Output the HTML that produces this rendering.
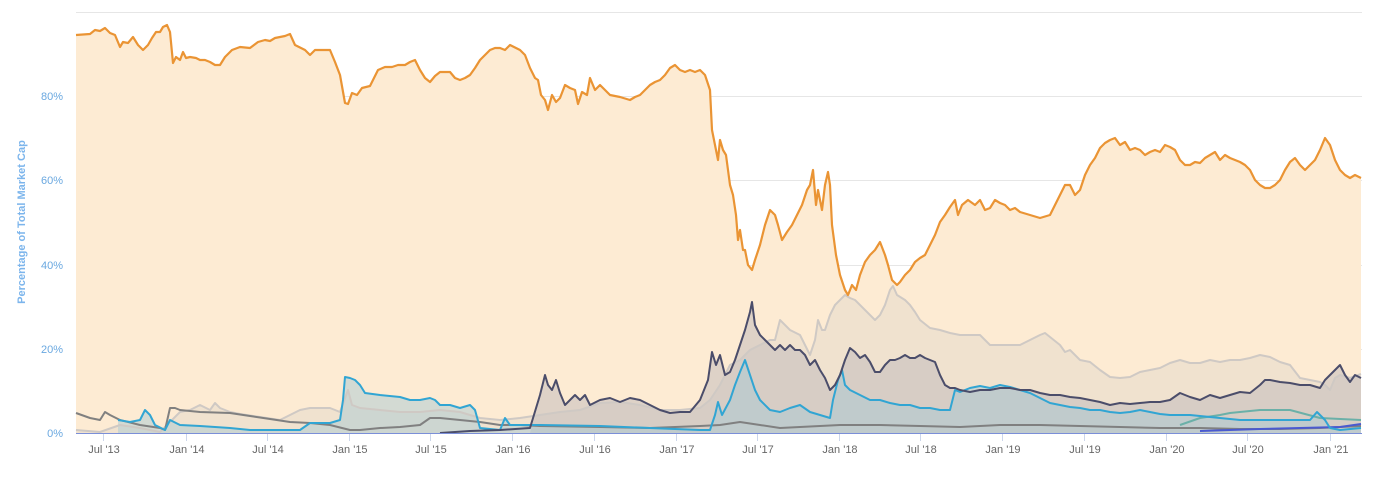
<!DOCTYPE html>
<html><head><meta charset="utf-8"><style>
html,body{margin:0;padding:0;background:#fff;}
svg{display:block;font-family:"Liberation Sans",sans-serif;}
</style></head><body>
<svg width="1384" height="478" viewBox="0 0 1384 478">
<g stroke="#e6e6e6" stroke-width="1">
<line x1="76" x2="1362" y1="12.5" y2="12.5"/>
<line x1="76" x2="1362" y1="96.5" y2="96.5"/>
<line x1="76" x2="1362" y1="180.5" y2="180.5"/>
<line x1="76" x2="1362" y1="265.5" y2="265.5"/>
<line x1="76" x2="1362" y1="349.5" y2="349.5"/>
</g>
<g font-size="11" fill="#6aa8e0" text-anchor="end">
<text x="63" y="100">80%</text><text x="63" y="184">60%</text><text x="63" y="269">40%</text><text x="63" y="353">20%</text><text x="63" y="437">0%</text>
</g>
<text transform="translate(25,222) rotate(-90)" text-anchor="middle" font-size="11" font-weight="bold" fill="#7cb5ec">Percentage of Total Market Cap</text>

<polygon fill="#fdebd3" points="76,433 76,35 90,34 95,30 100,31 105,28 110,33 115,35 120,47 123,42 128,43 133,37 138,45 143,50 148,45 152,38 156,32 160,32 163,27 167,25 170,32 173,63 176,57 180,60 183,52 186,58 190,57 196,58 200,60 205,60 210,62 215,65 220,65 225,57 232,50 240,47 250,48 258,42 265,40 270,41 275,38 285,36 290,34 295,45 305,50 310,55 315,50 325,50 330,50 335,62 340,75 345,103 348,104 352,93 357,95 362,88 370,86 378,70 385,67 392,67 398,65 405,65 410,62 415,60 420,70 425,78 430,82 435,76 440,72 445,72 450,72 455,78 460,80 465,78 470,75 475,68 480,60 485,55 490,50 495,48 500,48 505,50 510,45 520,50 525,55 530,68 535,78 538,80 541,95 545,100 548,110 552,95 556,102 560,98 565,85 570,88 575,90 578,104 582,92 587,95 590,78 595,90 600,85 605,90 610,95 620,97 630,100 635,97 640,95 645,90 650,85 655,82 660,80 665,75 670,68 675,65 680,70 685,72 690,70 695,72 700,70 705,75 710,90 712,130 715,145 718,160 720,140 723,150 726,155 730,185 733,195 736,215 738,240 740,230 743,250 745,250 748,265 752,270 755,260 760,245 765,225 770,210 775,215 778,225 782,240 787,232 792,225 797,215 802,205 807,190 810,185 813,170 816,205 818,190 822,210 825,185 828,172 830,185 832,225 836,255 840,275 845,290 848,295 852,285 856,290 860,275 865,262 870,255 875,250 880,242 885,255 888,265 892,280 897,285 900,282 905,275 910,270 915,262 920,258 925,255 930,245 935,235 940,222 945,215 950,207 955,200 958,215 962,205 968,200 975,205 980,200 985,210 990,208 995,200 1000,203 1005,205 1010,210 1015,208 1020,212 1030,215 1040,218 1050,215 1055,205 1060,195 1065,185 1070,185 1075,195 1080,190 1085,175 1090,165 1095,158 1100,148 1105,143 1110,140 1115,138 1120,145 1125,142 1130,150 1135,148 1140,150 1145,155 1150,152 1155,150 1160,152 1165,145 1170,147 1175,150 1180,160 1185,165 1190,165 1195,162 1200,163 1205,158 1210,155 1215,152 1220,160 1225,155 1230,158 1235,160 1240,162 1245,165 1250,170 1255,180 1260,185 1265,188 1270,188 1275,185 1280,180 1285,170 1290,162 1295,158 1300,165 1305,170 1310,165 1315,160 1320,150 1325,138 1330,145 1335,160 1340,170 1345,175 1350,178 1355,175 1361,178 1361,433"/>

<polygon fill="#e8dccd" fill-opacity="0.6" points="76,433 76,430 100,432 120,425 140,428 160,432 180,412 190,410 200,405 210,410 215,403 220,408 230,412 240,414 260,417 280,420 290,415 300,410 310,408 330,408 340,412 348,390 352,405 360,408 380,410 400,412 420,412 440,410 460,412 480,418 500,420 520,418 540,415 560,412 580,410 600,403 620,402 640,405 660,410 680,410 700,408 710,400 720,385 730,365 740,360 750,350 760,345 770,340 775,340 780,320 785,325 790,330 800,335 805,345 810,355 815,340 818,320 822,330 825,330 830,315 835,305 840,300 845,295 850,298 855,300 860,305 865,310 870,315 875,320 880,315 885,305 890,290 893,286 897,295 905,300 910,305 915,312 920,320 930,328 940,330 950,333 960,335 970,335 980,335 990,345 1000,345 1010,345 1020,345 1030,340 1040,335 1045,333 1050,337 1060,345 1065,352 1070,350 1080,360 1090,362 1100,370 1110,377 1120,378 1130,377 1140,372 1150,370 1160,368 1170,363 1180,360 1190,363 1200,363 1210,360 1220,362 1230,360 1240,360 1250,358 1260,355 1270,357 1280,362 1290,365 1300,378 1310,380 1320,382 1325,385 1330,390 1335,378 1340,375 1350,378 1361,374 1361,433"/>

<polygon fill="#b8b4b8" fill-opacity="0.45" points="500,433 530,433 540,395 545,375 548,385 552,390 556,380 560,393 565,405 570,400 575,395 580,400 585,395 590,405 600,400 610,398 620,402 630,398 640,400 650,405 660,410 670,413 680,412 690,412 700,400 708,380 712,352 716,365 720,355 725,375 730,372 735,360 740,345 745,330 750,312 752,302 755,325 760,335 765,340 770,345 775,350 780,345 785,350 790,345 795,350 800,350 805,355 810,365 815,360 820,370 825,378 830,390 835,385 840,375 845,360 850,348 855,352 860,358 865,355 870,362 875,372 880,372 885,365 890,360 895,360 900,358 905,355 910,358 915,358 920,355 925,358 930,360 935,362 940,375 945,385 950,388 955,388 960,390 970,392 980,390 990,390 1000,388 1010,388 1020,390 1030,390 1040,393 1050,395 1060,395 1070,397 1080,398 1090,400 1100,402 1110,405 1120,403 1130,404 1140,403 1150,402 1160,402 1170,400 1180,393 1190,397 1200,400 1210,395 1220,398 1230,395 1240,392 1250,393 1260,385 1265,380 1270,380 1280,382 1290,383 1300,385 1310,385 1320,388 1325,380 1330,375 1340,365 1345,375 1350,382 1355,375 1361,378 1361,433"/>

<polygon fill="#a9c9d4" fill-opacity="0.5" points="118,433 118,420 130,422 140,420 145,410 150,415 155,425 165,430 170,420 180,425 200,426 230,428 250,430 280,430 300,430 310,423 330,423 340,420 343,400 345,377 350,378 355,380 360,385 365,393 380,395 400,397 410,400 420,400 430,398 435,400 440,405 450,405 460,408 470,405 475,410 480,428 500,430 505,418 510,425 540,425 600,426 650,428 700,430 710,430 715,415 718,402 722,415 730,400 735,385 740,372 745,360 750,375 755,390 760,400 770,410 780,412 790,408 800,405 810,412 820,415 830,418 833,400 838,380 842,370 845,385 850,390 860,395 870,400 880,400 890,403 900,405 910,405 920,408 930,408 940,410 950,410 955,390 960,392 970,388 980,386 990,388 1000,385 1010,387 1020,390 1030,393 1040,398 1050,403 1060,405 1070,407 1080,408 1090,410 1100,410 1110,412 1120,413 1130,412 1140,410 1150,412 1160,414 1170,415 1180,415 1190,415 1200,416 1220,418 1240,420 1260,420 1280,420 1310,420 1317,412 1325,420 1330,428 1340,430 1361,428 1361,433"/>

<g fill="none" stroke-width="2" stroke-linejoin="round">
<polyline stroke="#cfc9c4" points="76,430 100,432 120,425 140,428 160,432 180,412 190,410 200,405 210,410 215,403 220,408 230,412 240,414 260,417 280,420 290,415 300,410 310,408 330,408 340,412 348,390 352,405 360,408 380,410 400,412 420,412 440,410 460,412 480,418 500,420 520,418 540,415 560,412 580,410 600,403 620,402 640,405 660,410 680,410 700,408 710,400 720,385 730,365 740,360 750,350 760,345 770,340 775,340 780,320 785,325 790,330 800,335 805,345 810,355 815,340 818,320 822,330 825,330 830,315 835,305 840,300 845,295 850,298 855,300 860,305 865,310 870,315 875,320 880,315 885,305 890,290 893,286 897,295 905,300 910,305 915,312 920,320 930,328 940,330 950,333 960,335 970,335 980,335 990,345 1000,345 1010,345 1020,345 1030,340 1040,335 1045,333 1050,337 1060,345 1065,352 1070,350 1080,360 1090,362 1100,370 1110,377 1120,378 1130,377 1140,372 1150,370 1160,368 1170,363 1180,360 1190,363 1200,363 1210,360 1220,362 1230,360 1240,360 1250,358 1260,355 1270,357 1280,362 1290,365 1300,378 1310,380 1320,382 1325,385 1330,390 1335,378 1340,375 1350,378 1361,374"/>
<polyline stroke="#808080" points="76,413 90,418 100,420 105,412 110,415 120,420 140,425 160,428 165,430 170,408 175,408 180,410 200,412 230,413 250,416 270,419 290,422 310,423 330,425 350,430 360,430 380,428 400,427 420,425 430,418 440,418 460,420 480,422 500,425 520,425 540,426 600,427 650,428 700,426 720,425 740,422 760,425 780,428 800,427 840,425 880,425 920,426 960,427 1000,425 1040,425 1080,426 1120,427 1160,428 1200,428 1240,429 1280,429 1320,428 1361,426"/>
<polyline stroke="#6bb0a8" points="1180,425 1200,418 1220,415 1230,413 1260,410 1290,410 1320,418 1361,420"/>
<polyline stroke="#4a5ad0" points="1200,431 1260,429 1300,428 1340,427 1361,424"/>
<polyline stroke="#31a5d3" points="118,420 130,422 140,420 145,410 150,415 155,425 165,430 170,420 180,425 200,426 230,428 250,430 280,430 300,430 310,423 330,423 340,420 343,400 345,377 350,378 355,380 360,385 365,393 380,395 400,397 410,400 420,400 430,398 435,400 440,405 450,405 460,408 470,405 475,410 480,428 500,430 505,418 510,425 540,425 600,426 650,428 700,430 710,430 715,415 718,402 722,415 730,400 735,385 740,372 745,360 750,375 755,390 760,400 770,410 780,412 790,408 800,405 810,412 820,415 830,418 833,400 838,380 842,370 845,385 850,390 860,395 870,400 880,400 890,403 900,405 910,405 920,408 930,408 940,410 950,410 955,390 960,392 970,388 980,386 990,388 1000,385 1010,387 1020,390 1030,393 1040,398 1050,403 1060,405 1070,407 1080,408 1090,410 1100,410 1110,412 1120,413 1130,412 1140,410 1150,412 1160,414 1170,415 1180,415 1190,415 1200,416 1220,418 1240,420 1260,420 1280,420 1310,420 1317,412 1325,420 1330,428 1340,430 1361,428"/>
<polyline stroke="#4b4d6a" points="440,433 470,431 500,430 530,428 540,395 545,375 548,385 552,390 556,380 560,393 565,405 570,400 575,395 580,400 585,395 590,405 600,400 610,398 620,402 630,398 640,400 650,405 660,410 670,413 680,412 690,412 700,400 708,380 712,352 716,365 720,355 725,375 730,372 735,360 740,345 745,330 750,312 752,302 755,325 760,335 765,340 770,345 775,350 780,345 785,350 790,345 795,350 800,350 805,355 810,365 815,360 820,370 825,378 830,390 835,385 840,375 845,360 850,348 855,352 860,358 865,355 870,362 875,372 880,372 885,365 890,360 895,360 900,358 905,355 910,358 915,358 920,355 925,358 930,360 935,362 940,375 945,385 950,388 955,388 960,390 970,392 980,390 990,390 1000,388 1010,388 1020,390 1030,390 1040,393 1050,395 1060,395 1070,397 1080,398 1090,400 1100,402 1110,405 1120,403 1130,404 1140,403 1150,402 1160,402 1170,400 1180,393 1190,397 1200,400 1210,395 1220,398 1230,395 1240,392 1250,393 1260,385 1265,380 1270,380 1280,382 1290,383 1300,385 1310,385 1320,388 1325,380 1330,375 1340,365 1345,375 1350,382 1355,375 1361,378"/>
<polyline stroke="#ea9434" stroke-width="2.2" points="76,35 90,34 95,30 100,31 105,28 110,33 115,35 120,47 123,42 128,43 133,37 138,45 143,50 148,45 152,38 156,32 160,32 163,27 167,25 170,32 173,63 176,57 180,60 183,52 186,58 190,57 196,58 200,60 205,60 210,62 215,65 220,65 225,57 232,50 240,47 250,48 258,42 265,40 270,41 275,38 285,36 290,34 295,45 305,50 310,55 315,50 325,50 330,50 335,62 340,75 345,103 348,104 352,93 357,95 362,88 370,86 378,70 385,67 392,67 398,65 405,65 410,62 415,60 420,70 425,78 430,82 435,76 440,72 445,72 450,72 455,78 460,80 465,78 470,75 475,68 480,60 485,55 490,50 495,48 500,48 505,50 510,45 520,50 525,55 530,68 535,78 538,80 541,95 545,100 548,110 552,95 556,102 560,98 565,85 570,88 575,90 578,104 582,92 587,95 590,78 595,90 600,85 605,90 610,95 620,97 630,100 635,97 640,95 645,90 650,85 655,82 660,80 665,75 670,68 675,65 680,70 685,72 690,70 695,72 700,70 705,75 710,90 712,130 715,145 718,160 720,140 723,150 726,155 730,185 733,195 736,215 738,240 740,230 743,250 745,250 748,265 752,270 755,260 760,245 765,225 770,210 775,215 778,225 782,240 787,232 792,225 797,215 802,205 807,190 810,185 813,170 816,205 818,190 822,210 825,185 828,172 830,185 832,225 836,255 840,275 845,290 848,295 852,285 856,290 860,275 865,262 870,255 875,250 880,242 885,255 888,265 892,280 897,285 900,282 905,275 910,270 915,262 920,258 925,255 930,245 935,235 940,222 945,215 950,207 955,200 958,215 962,205 968,200 975,205 980,200 985,210 990,208 995,200 1000,203 1005,205 1010,210 1015,208 1020,212 1030,215 1040,218 1050,215 1055,205 1060,195 1065,185 1070,185 1075,195 1080,190 1085,175 1090,165 1095,158 1100,148 1105,143 1110,140 1115,138 1120,145 1125,142 1130,150 1135,148 1140,150 1145,155 1150,152 1155,150 1160,152 1165,145 1170,147 1175,150 1180,160 1185,165 1190,165 1195,162 1200,163 1205,158 1210,155 1215,152 1220,160 1225,155 1230,158 1235,160 1240,162 1245,165 1250,170 1255,180 1260,185 1265,188 1270,188 1275,185 1280,180 1285,170 1290,162 1295,158 1300,165 1305,170 1310,165 1315,160 1320,150 1325,138 1330,145 1335,160 1340,170 1345,175 1350,178 1355,175 1361,178"/>
</g>
<line x1="76" x2="1362" y1="433.5" y2="433.5" stroke="#7b8fd8" stroke-width="1"/>
<g stroke="#ccd6eb" stroke-width="1">
<line x1="103.5" x2="103.5" y1="434" y2="441"/><line x1="186.5" x2="186.5" y1="434" y2="441"/><line x1="267.5" x2="267.5" y1="434" y2="441"/><line x1="349.5" x2="349.5" y1="434" y2="441"/><line x1="430.5" x2="430.5" y1="434" y2="441"/><line x1="512.5" x2="512.5" y1="434" y2="441"/><line x1="594.5" x2="594.5" y1="434" y2="441"/><line x1="676.5" x2="676.5" y1="434" y2="441"/><line x1="757.5" x2="757.5" y1="434" y2="441"/><line x1="839.5" x2="839.5" y1="434" y2="441"/><line x1="920.5" x2="920.5" y1="434" y2="441"/><line x1="1002.5" x2="1002.5" y1="434" y2="441"/><line x1="1084.5" x2="1084.5" y1="434" y2="441"/><line x1="1166.5" x2="1166.5" y1="434" y2="441"/><line x1="1247.5" x2="1247.5" y1="434" y2="441"/><line x1="1330.5" x2="1330.5" y1="434" y2="441"/>
</g>
<g font-size="11" fill="#666" text-anchor="middle">
<text x="104" y="453">Jul '13</text><text x="187" y="453">Jan '14</text><text x="268" y="453">Jul '14</text><text x="350" y="453">Jan '15</text><text x="431" y="453">Jul '15</text><text x="513" y="453">Jan '16</text><text x="595" y="453">Jul '16</text><text x="677" y="453">Jan '17</text><text x="758" y="453">Jul '17</text><text x="840" y="453">Jan '18</text><text x="921" y="453">Jul '18</text><text x="1003" y="453">Jan '19</text><text x="1085" y="453">Jul '19</text><text x="1167" y="453">Jan '20</text><text x="1248" y="453">Jul '20</text><text x="1331" y="453">Jan '21</text>
</g>
</svg>
</body></html>
